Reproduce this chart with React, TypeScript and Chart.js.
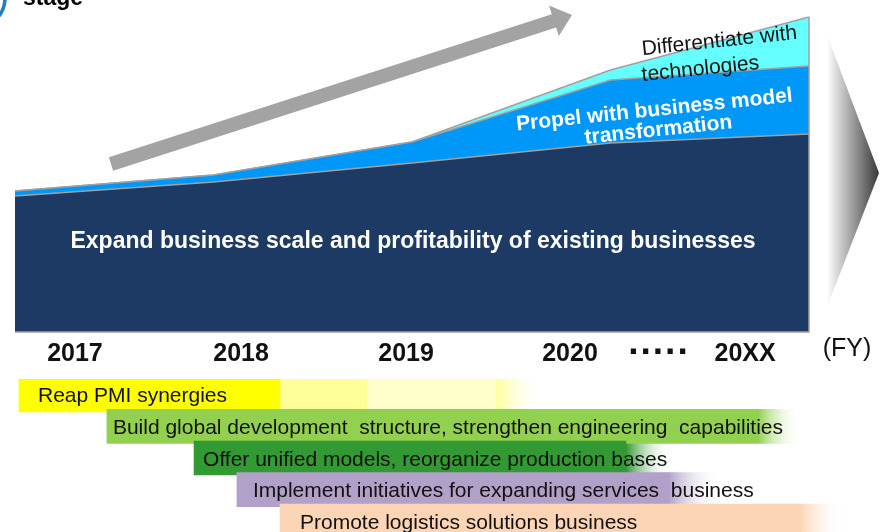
import React, { useEffect, useRef } from 'react';
import { Chart, registerables } from 'chart.js';

Chart.register(...registerables);

const FONT = '"Liberation Sans", Arial, Helvetica, sans-serif';

// ---- Growth stages (stacked areas) ----
const stagePositions = [0, 1, 2, 3, 4];
const existingBusiness = [136, 150, 169, 189, 198];
const businessModel = [5, 7, 21, 63, 68];
const technologies = [0, 0, 0, 10, 49];

const areaLabels = [
  'Expand business scale and profitability of existing businesses',
  'Propel with business model',
  'transformation',
  'Differentiate with',
  'technologies',
];

// ---- Fiscal-year tick labels (positions on the stage axis) ----
const tickPositions = [0.302, 1.139, 1.97, 2.796, 3.244, 3.678];
const tickLabels = ['2017', '2018', '2019', '2020', '·····', '20XX'];

// ---- Roadmap initiatives ----
const initiatives = [
  'Reap PMI synergies',
  'Build global development  structure, strengthen engineering  capabilities',
  'Offer unified models, reorganize production bases',
  'Implement initiatives for expanding services  business',
  'Promote logistics solutions business',
];
const solidStart = [0.02, 0.463, 0.902, 1.118, 1.335];
const solidEnd = [1.335, 3.743, 3.078, 3.29, 3.955];
const paleSpan = [[1.335, 1.773], null, null, null, null];
const palerSpan = [[1.773, 2.423], null, null, null, null];
const fadeStart = [2.423, 3.743, 3.078, 3.29, 3.955];
const fadeEnd = [2.66, 3.955, 3.305, 3.55, 4.181];

const rowColors = ['#ffff00', '#92d050', '#339933', '#b1a0c7', '#fbd5b5'];
const fadeColors = ['#ffff99', '#92d050', '#339933', '#b1a0c7', '#fbd5b5'];

const NAVY = '#1c3a64';
const BLUE = '#0098f8';
const CYAN = '#66ffff';
const EDGE = '#a0a0a0';

function drawArrow(ctx: CanvasRenderingContext2D, x0: number, y0: number, x1: number, y1: number, hw: number, hl: number, hhw: number) {
  const dx = x1 - x0, dy = y1 - y0, len = Math.hypot(dx, dy);
  const ux = dx / len, uy = dy / len, nx = -uy, ny = ux;
  const bx = x1 - ux * hl, by = y1 - uy * hl;
  ctx.beginPath();
  ctx.moveTo(x0 + nx * hw, y0 + ny * hw);
  ctx.lineTo(bx + nx * hw, by + ny * hw);
  ctx.lineTo(bx + nx * hhw, by + ny * hhw);
  ctx.lineTo(x1, y1);
  ctx.lineTo(bx - nx * hhw, by - ny * hhw);
  ctx.lineTo(bx - nx * hw, by - ny * hw);
  ctx.lineTo(x0 - nx * hw, y0 - ny * hw);
  ctx.closePath();
  ctx.fill();
}

function rotatedText(ctx: CanvasRenderingContext2D, text: string, x: number, y: number, deg: number) {
  ctx.save();
  ctx.translate(x, y);
  ctx.rotate((deg * Math.PI) / 180);
  ctx.fillText(text, 0, 0);
  ctx.restore();
}

const topDecor = {
  id: 'topDecor',
  beforeDatasetsDraw(chart: any) {
    const ctx: CanvasRenderingContext2D = chart.ctx;
    ctx.save();
    ctx.fillStyle = '#a3a3a3';
    drawArrow(ctx, 111, 164, 572, 15, 7, 19, 16);
    const g = ctx.createLinearGradient(827, 0, 879, 0);
    g.addColorStop(0, '#ffffff');
    g.addColorStop(1, '#383838');
    ctx.fillStyle = g;
    ctx.beginPath();
    ctx.moveTo(827, 35);
    ctx.lineTo(879, 173);
    ctx.lineTo(827, 307);
    ctx.closePath();
    ctx.fill();
    ctx.strokeStyle = '#1f7fc4';
    ctx.lineWidth = 3.5;
    ctx.beginPath();
    ctx.arc(-25, -2, 30, 0, Math.PI / 2);
    ctx.stroke();
    ctx.fillStyle = '#000';
    ctx.font = `bold 23px ${FONT}`;
    ctx.textAlign = 'left';
    ctx.textBaseline = 'alphabetic';
    ctx.fillText('stage', 23, 5);
    ctx.restore();
  },
  afterDatasetsDraw(chart: any) {
    const ctx: CanvasRenderingContext2D = chart.ctx;
    const xs = chart.scales.x, ys = chart.scales.y;
    const last = stagePositions.length - 1;
    const xr = xs.getPixelForValue(stagePositions[last]);
    const yt = ys.getPixelForValue(existingBusiness[last] + businessModel[last] + technologies[last]);
    const yb = ys.getPixelForValue(0);
    ctx.save();
    ctx.strokeStyle = EDGE;
    ctx.lineWidth = 1.5;
    ctx.beginPath();
    ctx.moveTo(xr, yt);
    ctx.lineTo(xr, yb);
    ctx.lineTo(xs.getPixelForValue(stagePositions[0]), yb);
    ctx.stroke();

    ctx.textAlign = 'center';
    ctx.textBaseline = 'alphabetic';
    ctx.fillStyle = '#ffffff';
    ctx.font = `bold 23px ${FONT}`;
    ctx.fillText(areaLabels[0], 413, 248);
    ctx.font = `bold 21px ${FONT}`;
    rotatedText(ctx, areaLabels[1], 655, 116, -6);
    rotatedText(ctx, areaLabels[2], 659, 136, -6);
    ctx.fillStyle = '#111';
    ctx.font = `21px ${FONT}`;
    rotatedText(ctx, areaLabels[3], 720, 47, -6);
    rotatedText(ctx, areaLabels[4], 701, 75, -6);

    ctx.font = `25px ${FONT}`;
    ctx.fillText('(FY)', 847, 356);
    ctx.restore();
  },
};

const botDecor = {
  id: 'botDecor',
  afterDatasetsDraw(chart: any) {
    const ctx: CanvasRenderingContext2D = chart.ctx;
    const xs = chart.scales.x, ys = chart.scales.y;
    const offsets = [19, 6, 9, 16, 20];
    ctx.save();
    ctx.fillStyle = '#111';
    ctx.font = `21px ${FONT}`;
    ctx.textAlign = 'left';
    ctx.textBaseline = 'alphabetic';
    initiatives.forEach((t, i) => {
      const x = xs.getPixelForValue(solidStart[i]) + offsets[i];
      const y = ys.getPixelForValue(i) + 7.5;
      ctx.fillText(t, x, y);
    });
    ctx.restore();
  },
};

export default function App() {
  const topRef = useRef<HTMLCanvasElement>(null);
  const botRef = useRef<HTMLCanvasElement>(null);

  useEffect(() => {
    Chart.defaults.font.family = FONT;
    const pts = (vals: number[]) => stagePositions.map((x, i) => ({ x, y: vals[i] }));

    const top = new Chart(topRef.current!, {
      type: 'line',
      data: {
        datasets: [
          { label: areaLabels[0], data: pts(existingBusiness), fill: 'origin', backgroundColor: NAVY, borderColor: EDGE, borderWidth: 1.5, pointRadius: 0, tension: 0 },
          { label: areaLabels[1], data: pts(businessModel), fill: '-1', backgroundColor: BLUE, borderColor: EDGE, borderWidth: 1.5, pointRadius: 0, tension: 0 },
          { label: areaLabels[3], data: pts(technologies), fill: '-1', backgroundColor: CYAN, borderColor: EDGE, borderWidth: 1.5, pointRadius: 0, tension: 0 },
        ],
      },
      options: {
        responsive: false,
        animation: false,
        devicePixelRatio: 1,
        events: [],
        layout: { padding: { left: 15, right: 71, top: 0, bottom: 0 } },
        plugins: { legend: { display: false }, tooltip: { enabled: false } },
        scales: {
          x: {
            type: 'linear',
            min: 0,
            max: 4,
            grid: { display: false, drawTicks: false },
            border: { display: false },
            afterBuildTicks: (s: any) => {
              s.ticks = tickPositions.map((v) => ({ value: v }));
            },
            ticks: {
              autoSkip: false,
              maxRotation: 0,
              padding: 7,
              color: '#111',
              font: (c: any) =>
                c.index === 4
                  ? { size: 37, weight: 'bold', lineHeight: '30px' }
                  : { size: 25, weight: 'bold', lineHeight: '30px' },
              callback: (_v: any, i: number) => tickLabels[i],
            },
          },
          y: { display: false, stacked: true, min: 0, max: 332 },
        },
      } as any,
      plugins: [topDecor],
    });

    const fadeBg = (c: any) => {
      const color = fadeColors[c.dataIndex] || fadeColors[0];
      const xs = c.chart && c.chart.scales && c.chart.scales.x;
      const raw = c.raw;
      if (!xs || !Array.isArray(raw)) return color;
      const x0 = xs.getPixelForValue(raw[0]);
      const x1 = xs.getPixelForValue(raw[1]);
      if (!Number.isFinite(x0) || !Number.isFinite(x1) || x1 <= x0) return color;
      const g = c.chart.ctx.createLinearGradient(x0, 0, x1, 0);
      g.addColorStop(0, color);
      g.addColorStop(1, 'rgba(255,255,255,0)');
      return g;
    };

    const common = { barThickness: 34, borderWidth: 0, grouped: false, clip: false as any };
    const bot = new Chart(botRef.current!, {
      type: 'bar',
      data: {
        labels: initiatives,
        datasets: [
          { ...common, label: 'solid', data: initiatives.map((_, i) => [solidStart[i], solidEnd[i]]), backgroundColor: rowColors },
          { ...common, label: 'pale', data: paleSpan as any, backgroundColor: '#ffff99' },
          { ...common, label: 'paler', data: palerSpan as any, backgroundColor: '#ffffcc' },
          { ...common, label: 'fade', data: initiatives.map((_, i) => [fadeStart[i], fadeEnd[i]]), backgroundColor: fadeBg },
        ],
      },
      options: {
        indexAxis: 'y',
        responsive: false,
        animation: false,
        devicePixelRatio: 1,
        events: [],
        layout: { padding: { left: 15, right: 71, top: 0, bottom: 0 } },
        plugins: { legend: { display: false }, tooltip: { enabled: false } },
        scales: {
          x: { type: 'linear', min: 0, max: 4, display: false },
          y: { type: 'category', display: false },
        },
      } as any,
      plugins: [botDecor],
    });

    return () => {
      top.destroy();
      bot.destroy();
    };
  }, []);

  return (
    <div style={{ position: 'fixed', left: 0, top: 0, width: 880, height: 532, overflow: 'hidden', background: '#fff' }}>
      <canvas ref={topRef} width={880} height={376} style={{ position: 'absolute', left: 0, top: 0, width: 880, height: 376 }} />
      <canvas ref={botRef} width={880} height={158} style={{ position: 'absolute', left: 0, top: 379, width: 880, height: 158 }} />
    </div>
  );
}
